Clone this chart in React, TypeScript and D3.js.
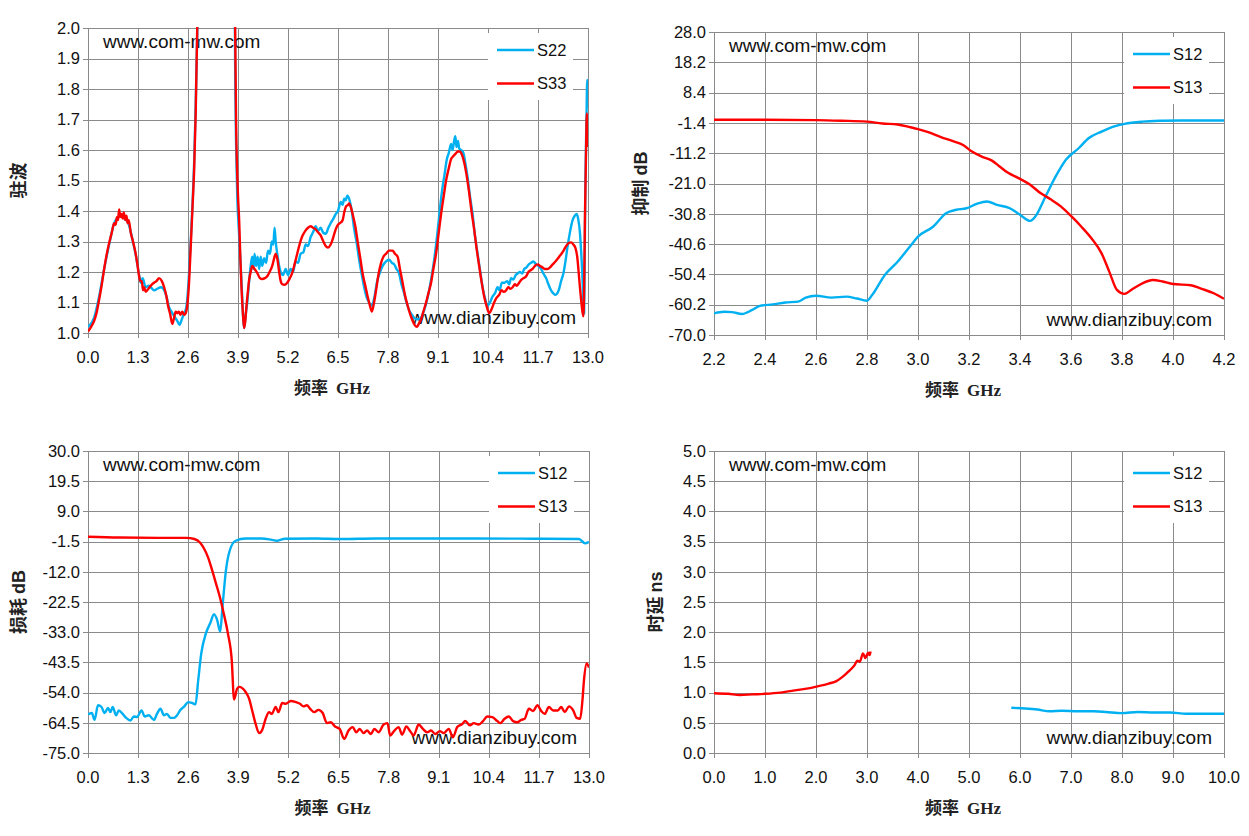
import * as d3 from "d3";

// ---- panel 1: VSWR ----
const vswrXTicks = [0.0, 1.3, 2.6, 3.9, 5.2, 6.5, 7.8, 9.1, 10.4, 11.7, 13.0];
const vswrYTicks = [1.0, 1.1, 1.2, 1.3, 1.4, 1.5, 1.6, 1.7, 1.8, 1.9, 2.0];

const s22Freq = [
  0, 0.16, 0.29, 0.42, 0.55, 0.68, 0.78, 0.85, 0.95, 1.05, 1.15, 1.25, 1.33, 1.37, 1.42, 1.5, 1.58, 1.63,
  1.72, 1.8, 1.9, 1.98, 2.04, 2.1, 2.17, 2.24, 2.32, 2.38, 2.44, 2.5, 2.55, 2.58, 2.62, 2.67, 2.72, 2.76,
  2.8, 2.84, 2.9, 3.3, 3.8, 3.83, 3.85, 3.88, 3.93, 3.99, 4.06, 4.1, 4.14, 4.19, 4.23, 4.27, 4.3, 4.33,
  4.37, 4.41, 4.45, 4.49, 4.53, 4.58, 4.63, 4.68, 4.73, 4.78, 4.82, 4.85, 4.88, 4.92, 4.97, 5.01, 5.07,
  5.14, 5.2, 5.27, 5.33, 5.4, 5.46, 5.53, 5.6, 5.66, 5.72, 5.79, 5.85, 5.92, 5.98, 6.05, 6.11, 6.18,
  6.25, 6.31, 6.38, 6.44, 6.5, 6.57, 6.62, 6.66, 6.7, 6.74, 6.79, 6.83, 6.87, 6.91, 6.98, 7.05, 7.12,
  7.18, 7.25, 7.31, 7.37, 7.4, 7.45, 7.51, 7.58, 7.66, 7.75, 7.83, 7.9, 7.96, 8.02, 8.09, 8.15, 8.22,
  8.28, 8.35, 8.42, 8.48, 8.55, 8.61, 8.68, 8.74, 8.8, 8.87, 8.94, 9.0, 9.06, 9.12, 9.17, 9.22, 9.27,
  9.33, 9.38, 9.44, 9.48, 9.52, 9.55, 9.58, 9.62, 9.65, 9.7, 9.76, 9.82, 9.87, 9.93, 10.0, 10.06, 10.13,
  10.2, 10.26, 10.33, 10.39, 10.45, 10.52, 10.58, 10.65, 10.7, 10.76, 10.83, 10.9, 10.95, 11.0, 11.06,
  11.12, 11.17, 11.23, 11.29, 11.34, 11.4, 11.46, 11.52, 11.58, 11.65, 11.71, 11.78, 11.84, 11.91,
  11.97, 12.04, 12.1, 12.15, 12.2, 12.25, 12.3, 12.36, 12.42, 12.47, 12.53, 12.6, 12.66, 12.71, 12.75,
  12.79, 12.82, 12.85, 12.88, 12.9, 12.93, 12.96, 12.98, 13.0,
];
const s22Vswr = [
  1.02, 1.05, 1.12, 1.21, 1.29, 1.36, 1.38, 1.39, 1.375, 1.36, 1.31, 1.25, 1.19, 1.165, 1.18, 1.15,
  1.155, 1.15, 1.14, 1.145, 1.15, 1.14, 1.12, 1.087, 1.07, 1.055, 1.04, 1.027, 1.045, 1.065, 1.08, 1.11,
  1.18, 1.3, 1.43, 1.56, 1.75, 1.98, 2.3, 3.0, 2.3, 1.8, 1.62, 1.45, 1.32, 1.17, 1.016, 1.06, 1.1, 1.17,
  1.22, 1.25, 1.21, 1.26, 1.22, 1.25, 1.21, 1.25, 1.22, 1.245, 1.23, 1.27, 1.26, 1.3, 1.29, 1.345, 1.3,
  1.26, 1.22, 1.2, 1.19, 1.21, 1.19, 1.21, 1.2, 1.235, 1.23, 1.26, 1.265, 1.29, 1.285, 1.315, 1.33,
  1.35, 1.335, 1.345, 1.33, 1.325, 1.345, 1.36, 1.375, 1.39, 1.4, 1.43, 1.42, 1.44, 1.435, 1.45, 1.44,
  1.42, 1.39, 1.35, 1.3, 1.24, 1.19, 1.15, 1.115, 1.1, 1.09, 1.095, 1.12, 1.165, 1.195, 1.22, 1.235,
  1.24, 1.23, 1.225, 1.21, 1.195, 1.16, 1.13, 1.1, 1.075, 1.06, 1.05, 1.045, 1.045, 1.055, 1.075, 1.1,
  1.14, 1.19, 1.24, 1.3, 1.37, 1.43, 1.48, 1.52, 1.57, 1.59, 1.62, 1.6, 1.63, 1.645, 1.61, 1.63, 1.605,
  1.6, 1.59, 1.55, 1.51, 1.45, 1.39, 1.32, 1.26, 1.2, 1.15, 1.11, 1.09, 1.1, 1.12, 1.13, 1.15, 1.14,
  1.165, 1.165, 1.17, 1.16, 1.18, 1.175, 1.19, 1.195, 1.2, 1.195, 1.21, 1.215, 1.225, 1.23, 1.235, 1.225,
  1.22, 1.21, 1.195, 1.18, 1.16, 1.14, 1.13, 1.125, 1.13, 1.145, 1.17, 1.195, 1.24, 1.285, 1.33, 1.37,
  1.385, 1.39, 1.37, 1.33, 1.27, 1.2, 1.1, 1.065, 1.48, 1.7, 1.83, 1.74,
];

const s33Freq = [
  0, 0.08, 0.16, 0.23, 0.29, 0.36, 0.42, 0.49, 0.55, 0.62, 0.68, 0.72, 0.75, 0.78, 0.81, 0.84, 0.87, 0.9,
  0.93, 0.97, 1.0, 1.03, 1.06, 1.11, 1.17, 1.24, 1.29, 1.33, 1.36, 1.4, 1.43, 1.46, 1.5, 1.54, 1.6, 1.67,
  1.72, 1.78, 1.85, 1.92, 1.98, 2.04, 2.08, 2.14, 2.19, 2.23, 2.28, 2.32, 2.36, 2.4, 2.45, 2.5, 2.54,
  2.58, 2.62, 2.67, 2.72, 2.76, 2.8, 2.84, 2.9, 3.3, 3.8, 3.83, 3.85, 3.9, 3.93, 3.96, 3.99, 4.03, 4.06,
  4.09, 4.12, 4.16, 4.19, 4.23, 4.27, 4.33, 4.4, 4.47, 4.53, 4.6, 4.66, 4.72, 4.79, 4.84, 4.88, 4.92,
  4.97, 5.01, 5.05, 5.11, 5.18, 5.25, 5.31, 5.38, 5.44, 5.5, 5.57, 5.65, 5.72, 5.79, 5.85, 5.92, 5.98,
  6.05, 6.12, 6.18, 6.24, 6.31, 6.38, 6.44, 6.5, 6.55, 6.62, 6.67, 6.71, 6.76, 6.79, 6.84, 6.88, 6.95,
  7.01, 7.08, 7.14, 7.21, 7.27, 7.33, 7.38, 7.43, 7.49, 7.55, 7.62, 7.68, 7.75, 7.83, 7.92, 7.98, 8.05,
  8.11, 8.18, 8.24, 8.31, 8.38, 8.44, 8.5, 8.55, 8.6, 8.66, 8.72, 8.79, 8.85, 8.92, 8.98, 9.05, 9.12,
  9.18, 9.25, 9.31, 9.38, 9.44, 9.5, 9.57, 9.62, 9.67, 9.72, 9.78, 9.84, 9.91, 9.97, 10.04, 10.1, 10.17,
  10.23, 10.3, 10.36, 10.43, 10.5, 10.56, 10.62, 10.69, 10.75, 10.81, 10.87, 10.93, 10.98, 11.04, 11.1,
  11.15, 11.21, 11.27, 11.33, 11.39, 11.45, 11.5, 11.56, 11.62, 11.69, 11.75, 11.82, 11.88, 11.95, 12.01,
  12.08, 12.16, 12.25, 12.34, 12.43, 12.5, 12.56, 12.62, 12.67, 12.72, 12.76, 12.79, 12.82, 12.85, 12.88,
  12.9, 12.92, 12.95, 12.97, 12.99, 13.0,
];
const s33Vswr = [
  1.005, 1.02, 1.04, 1.07, 1.11, 1.16, 1.21, 1.26, 1.295, 1.33, 1.36, 1.355, 1.38, 1.37, 1.405, 1.38,
  1.39, 1.375, 1.395, 1.37, 1.385, 1.36, 1.37, 1.33, 1.3, 1.26, 1.22, 1.185, 1.17, 1.17, 1.14, 1.15,
  1.135, 1.14, 1.15, 1.16, 1.165, 1.17, 1.18, 1.17, 1.15, 1.12, 1.09, 1.06, 1.03, 1.045, 1.07, 1.065,
  1.07, 1.06, 1.07, 1.06, 1.065, 1.09, 1.15, 1.28, 1.42, 1.535, 1.72, 2.0, 2.3, 3.0, 2.3, 1.95, 1.7,
  1.45, 1.37, 1.25, 1.15, 1.06, 1.016, 1.04, 1.087, 1.14, 1.175, 1.2, 1.22, 1.21, 1.197, 1.18, 1.177,
  1.18, 1.186, 1.2, 1.22, 1.245, 1.26, 1.245, 1.2, 1.17, 1.16, 1.158, 1.165, 1.18, 1.197, 1.23, 1.26,
  1.29, 1.317, 1.335, 1.345, 1.35, 1.345, 1.34, 1.33, 1.32, 1.3, 1.285, 1.28, 1.29, 1.315, 1.34, 1.355,
  1.36, 1.37, 1.4, 1.415, 1.42, 1.425, 1.41, 1.39, 1.35, 1.3, 1.245, 1.195, 1.155, 1.12, 1.09, 1.07,
  1.095, 1.14, 1.19, 1.23, 1.25, 1.26, 1.27, 1.27, 1.26, 1.25, 1.21, 1.165, 1.125, 1.09, 1.06, 1.04,
  1.025, 1.02, 1.03, 1.045, 1.07, 1.1, 1.13, 1.165, 1.21, 1.26, 1.33, 1.39, 1.45, 1.5, 1.54, 1.57, 1.58,
  1.59, 1.595, 1.595, 1.585, 1.56, 1.52, 1.46, 1.4, 1.34, 1.28, 1.22, 1.17, 1.12, 1.09, 1.065, 1.08, 1.1,
  1.115, 1.125, 1.14, 1.135, 1.14, 1.15, 1.145, 1.15, 1.16, 1.155, 1.165, 1.175, 1.18, 1.185, 1.2, 1.205,
  1.21, 1.22, 1.225, 1.22, 1.215, 1.21, 1.21, 1.215, 1.225, 1.235, 1.25, 1.265, 1.285, 1.295, 1.297,
  1.29, 1.28, 1.25, 1.195, 1.15, 1.11, 1.075, 1.055, 1.15, 1.37, 1.6, 1.72, 1.68, 1.61,
];

// ---- panel 2: rejection (2.2 - 4.2 GHz) ----
const rejXTicks = [2.2, 2.4, 2.6, 2.8, 3.0, 3.2, 3.4, 3.6, 3.8, 4.0, 4.2];
const rejYTicks = [-70.0, -60.2, -50.4, -40.6, -30.8, -21.0, -11.2, -1.4, 8.4, 18.2, 28.0];

const rejS12Freq = [
  2.2, 2.24, 2.27, 2.31, 2.35, 2.38, 2.43, 2.48, 2.53, 2.56, 2.6, 2.66, 2.72, 2.76, 2.8, 2.82, 2.87,
  2.92, 2.97, 3.0, 3.06, 3.11, 3.15, 3.19, 3.23, 3.27, 3.31, 3.36, 3.4, 3.44, 3.46, 3.5, 3.54, 3.58,
  3.63, 3.67, 3.72, 3.77, 3.81, 3.88, 3.96, 4.03, 4.2,
];
const rejS12 = [
  -63.0, -62.5, -62.6, -63.2, -61.9, -60.6, -60.1, -59.5, -59.2, -57.9, -57.3, -57.9, -57.6, -58.2,
  -58.9, -57.1, -50.6, -46.3, -41.2, -38.2, -34.9, -30.6, -29.5, -29.0, -27.6, -26.8, -27.9, -29.0,
  -31.1, -33.1, -31.7, -25.2, -18.7, -13.3, -9.6, -6.3, -4.2, -2.5, -1.7, -1.0, -0.7, -0.6, -0.6,
];
const rejS13Freq = [
  2.2, 2.4, 2.6, 2.7, 2.8, 2.86, 2.92, 2.97, 3.0, 3.04, 3.09, 3.14, 3.18, 3.21, 3.25, 3.29, 3.32, 3.35,
  3.4, 3.44, 3.48, 3.52, 3.56, 3.6, 3.64, 3.68, 3.72, 3.75, 3.78, 3.81, 3.84, 3.88, 3.92, 3.96, 4.0,
  4.07, 4.11, 4.16, 4.2,
];
const rejS13 = [
  -0.4, -0.4, -0.5, -0.7, -1.0, -1.6, -1.9, -2.8, -3.4, -4.4, -6.0, -7.4, -8.7, -10.6, -12.3, -13.6,
  -15.5, -17.4, -19.5, -21.4, -24.1, -26.1, -28.4, -31.5, -34.9, -38.7, -43.6, -49.5, -55.4, -56.7,
  -55.2, -53.3, -52.2, -52.7, -53.5, -53.9, -55.0, -56.5, -58.3,
];

// ---- panel 3: loss (0 - 13 GHz) ----
const lossXTicks = vswrXTicks;
const lossYTicks = [-75.0, -64.5, -54.0, -43.5, -33.0, -22.5, -12.0, -1.5, 9.0, 19.5, 30.0];

const lossS12Freq = [
  0, 0.02, 0.1, 0.17, 0.26, 0.35, 0.43, 0.52, 0.58, 0.64, 0.73, 0.8, 0.9, 0.99, 1.1, 1.19, 1.27, 1.39,
  1.47, 1.58, 1.71, 1.79, 1.88, 1.97, 2.05, 2.14, 2.23, 2.31, 2.4, 2.5, 2.6, 2.7, 2.79, 2.86, 2.94,
  3.06, 3.17, 3.27, 3.35, 3.43, 3.49, 3.58, 3.68, 3.83, 4.09, 4.5, 4.75, 4.91, 5.11, 5.93, 6.55, 7.47,
  9.0, 10.03, 11.57, 12.74, 12.9, 13.0,
];
const lossS12 = [
  -61.1, -61.4, -61.1, -63.5, -58.4, -59.0, -61.1, -59.3, -60.8, -59.0, -61.9, -60.2, -61.4, -62.8,
  -63.7, -62.3, -62.5, -60.2, -62.3, -61.9, -63.5, -61.4, -59.6, -61.9, -61.4, -62.8, -62.8, -61.9,
  -60.0, -58.8, -57.3, -57.6, -58.1, -49.7, -40.3, -33.4, -29.9, -26.7, -28.7, -32.8, -24.1, -11.4,
  -4.5, -1.2, -0.4, -0.4, -0.8, -1.2, -0.5, -0.4, -0.6, -0.4, -0.4, -0.4, -0.5, -0.6, -2.1, -1.6,
];
const lossS13Freq = [
  0, 0.81, 1.83, 2.55, 2.76, 2.91, 3.01, 3.11, 3.22, 3.32, 3.42, 3.52, 3.63, 3.73, 3.79, 3.87, 3.93,
  4.07, 4.18, 4.26, 4.35, 4.44, 4.52, 4.61, 4.7, 4.77, 4.87, 4.94, 5.04, 5.13, 5.26, 5.39, 5.5, 5.59,
  5.68, 5.76, 5.87, 5.98, 6.09, 6.2, 6.3, 6.41, 6.53, 6.65, 6.76, 6.87, 6.96, 7.05, 7.15, 7.24, 7.34,
  7.43, 7.54, 7.67, 7.77, 7.84, 7.95, 8.06, 8.15, 8.26, 8.36, 8.45, 8.58, 8.69, 8.8, 8.9, 9.01, 9.13,
  9.23, 9.36, 9.47, 9.58, 9.71, 9.79, 9.91, 10.01, 10.14, 10.25, 10.36, 10.49, 10.62, 10.7, 10.81,
  10.92, 11.03, 11.14, 11.24, 11.33, 11.44, 11.55, 11.66, 11.76, 11.85, 11.96, 12.07, 12.19, 12.28,
  12.37, 12.48, 12.59, 12.68, 12.77, 12.83, 12.87, 12.94, 13.0,
];
const lossS13 = [
  0.2, -0.1, -0.2, -0.2, -0.6, -1.9, -3.9, -6.8, -11.4, -16.0, -20.7, -26.4, -33.4, -42.7, -56.4,
  -52.6, -52.0, -53.4, -56.1, -60.2, -64.9, -68.1, -67.0, -63.1, -60.8, -61.4, -59.0, -60.8, -57.6,
  -57.9, -56.9, -57.3, -57.9, -58.8, -58.4, -59.6, -60.8, -60.0, -61.1, -64.6, -64.3, -65.8, -66.6,
  -70.1, -67.2, -66.0, -67.8, -66.6, -68.1, -67.2, -68.4, -66.6, -67.8, -65.1, -64.6, -68.9, -67.2,
  -66.0, -68.6, -65.8, -67.4, -68.9, -65.1, -66.6, -67.8, -67.2, -68.4, -67.4, -68.1, -66.6, -69.5,
  -66.0, -64.9, -63.9, -65.4, -64.6, -65.1, -63.9, -62.3, -62.5, -63.9, -64.6, -63.1, -62.3, -63.9,
  -64.3, -63.5, -63.1, -59.6, -60.4, -58.4, -60.4, -61.4, -59.0, -60.2, -60.2, -59.0, -60.8, -58.8,
  -60.2, -62.8, -63.1, -56.7, -49.7, -43.9, -45.3,
];

// ---- panel 4: group delay (0 - 10 GHz) ----
const delayXTicks = [0.0, 1.0, 2.0, 3.0, 4.0, 5.0, 6.0, 7.0, 8.0, 9.0, 10.0];
const delayYTicks = [0.0, 0.5, 1.0, 1.5, 2.0, 2.5, 3.0, 3.5, 4.0, 4.5, 5.0];

const delayS12Freq = [5.83, 6.03, 6.34, 6.58, 6.82, 7.13, 7.45, 7.68, 8.0, 8.31, 8.63, 8.94, 9.26, 9.57, 9.81, 10.0];
const delayS12 = [0.75, 0.74, 0.72, 0.69, 0.7, 0.69, 0.69, 0.68, 0.66, 0.68, 0.67, 0.67, 0.65, 0.65, 0.65, 0.65];
const delayS13Freq = [
  0, 0.28, 0.51, 0.75, 1.0, 1.3, 1.62, 1.85, 2.01, 2.25, 2.4, 2.52, 2.64, 2.76, 2.81, 2.86, 2.92, 2.97,
  3.02, 3.05, 3.07,
];
const delayS13 = [
  0.99, 0.98, 0.96, 0.97, 0.98, 1.0, 1.04, 1.07, 1.1, 1.15, 1.19, 1.26, 1.35, 1.46, 1.53, 1.51, 1.65,
  1.57, 1.66, 1.62, 1.68,
];

const BLUE = "#00B0F0";
const RED = "#FF0000";
const GRID = "#8a8a8a";
const SANS = "'Liberation Sans', Arial, sans-serif";
const SERIF = "'Liberation Serif', 'Noto Sans CJK SC', serif";
const CJK = "'Noto Sans CJK SC', sans-serif";

type Series = { name: string; color: string; freq: number[]; values: number[] };

function Panel({ id, box, xTicks, yTicks, series, yTitle, yUnit, yTitleX }: any) {
  const x = d3.scaleLinear().domain([xTicks[0], xTicks[xTicks.length - 1]]).range([box.left, box.right]);
  const y = d3.scaleLinear().domain([yTicks[0], yTicks[yTicks.length - 1]]).range([box.bottom, box.top]);
  const line = d3
    .line<[number, number]>()
    .x((d) => x(d[0]))
    .y((d) => y(d[1]))
    .curve(d3.curveMonotoneX);
  const px = (v: number) => Math.round(v) + 0.5;

  const legW = 85;
  const legX = box.right - 15 - legW;
  const legY = box.top + 5;
  const midY = (box.top + box.bottom) / 2;
  const midX = (box.left + box.right) / 2;

  return (
    <g>
      <defs>
        <clipPath id={`clip-${id}`}>
          <rect x={box.left} y={box.top - 1} width={box.right - box.left} height={box.bottom - box.top + 2} />
        </clipPath>
      </defs>

      {/* grid + ticks */}
      {yTicks.map((t: number) => (
        <line key={`h${t}`} x1={box.left - 5} x2={box.right} y1={px(y(t))} y2={px(y(t))} stroke={GRID} strokeWidth={1} />
      ))}
      {xTicks.map((t: number) => (
        <line key={`v${t}`} x1={px(x(t))} x2={px(x(t))} y1={box.top} y2={box.bottom + 5} stroke={GRID} strokeWidth={1} />
      ))}

      {/* tick labels */}
      {yTicks.map((t: number) => (
        <text key={`yl${t}`} x={box.left - 8} y={y(t)} dy="0.35em" textAnchor="end" fontFamily={SANS} fontSize={16.5} fill="#111">
          {t.toFixed(1)}
        </text>
      ))}
      {xTicks.map((t: number) => (
        <text key={`xl${t}`} x={x(t)} y={box.bottom + 30} textAnchor="middle" fontFamily={SANS} fontSize={16.5} fill="#111">
          {t.toFixed(1)}
        </text>
      ))}

      {/* axis titles */}
      <text x={midX - 6} y={box.bottom + 61} textAnchor="middle" fontFamily={CJK} fontWeight="bold" fontSize={17} fill="#222">
        频率
        <tspan dx={8} fontFamily={SERIF} fontWeight="bold">GHz</tspan>
      </text>
      <text
        transform={`translate(${yTitleX},${midY}) rotate(-90)`}
        textAnchor="middle"
        dy="0.35em"
        fontFamily={CJK}
        fontWeight="bold"
        fontSize={18}
        fill="#222"
      >
        {yTitle}
        {yUnit ? (
          <tspan dx={4} fontFamily={SANS} fontWeight="bold">
            {yUnit}
          </tspan>
        ) : null}
      </text>

      {/* watermarks */}
      <text x={box.left + 15} y={box.top + 20} fontFamily={SANS} fontSize={19} fill="#111">
        www.com-mw.com
      </text>
      <text x={box.right - 12} y={box.bottom - 9} textAnchor="end" fontFamily={SANS} fontSize={19} fill="#111">
        www.dianzibuy.com
      </text>

      {/* data */}
      <g clipPath={`url(#clip-${id})`}>
        {series.map((s: Series) => (
          <path
            key={s.name}
            d={line(s.freq.map((f, i) => [f, s.values[i]] as [number, number])) || ""}
            fill="none"
            stroke={s.color}
            strokeWidth={2.4}
            strokeLinejoin="round"
          />
        ))}
      </g>

      {/* legend */}
      <rect x={legX} y={legY} width={legW} height={67} fill="#fff" />
      {series.map((s: Series, i: number) => {
        const ly = legY + 17 + i * 33.5;
        return (
          <g key={`lg${s.name}`}>
            <line x1={legX + 9} x2={legX + 46} y1={ly} y2={ly} stroke={s.color} strokeWidth={2.5} />
            <text x={legX + 49} y={ly} dy="0.35em" fontFamily={SANS} fontSize={16.5} fill="#111">
              {s.name}
            </text>
          </g>
        );
      })}
    </g>
  );
}

export default function App() {
  return (
    <svg
      width={1249}
      height={836}
      viewBox="0 0 1249 836"
      style={{ position: "absolute", left: 0, top: 0, background: "#fff" }}
    >
      <rect width={1249} height={836} fill="#fff" />
      <Panel
        id="vswr"
        box={{ left: 88, right: 588, top: 28, bottom: 333 }}
        xTicks={vswrXTicks}
        yTicks={vswrYTicks}
        yTitle="驻波"
        yTitleX={19}
        series={[
          { name: "S22", color: BLUE, freq: s22Freq, values: s22Vswr },
          { name: "S33", color: RED, freq: s33Freq, values: s33Vswr },
        ]}
      />
      <Panel
        id="rej"
        box={{ left: 714, right: 1224, top: 32, bottom: 335 }}
        xTicks={rejXTicks}
        yTicks={rejYTicks}
        yTitle="抑制"
        yUnit="dB"
        yTitleX={641}
        series={[
          { name: "S12", color: BLUE, freq: rejS12Freq, values: rejS12 },
          { name: "S13", color: RED, freq: rejS13Freq, values: rejS13 },
        ]}
      />
      <Panel
        id="loss"
        box={{ left: 88, right: 589, top: 451, bottom: 753 }}
        xTicks={lossXTicks}
        yTicks={lossYTicks}
        yTitle="损耗"
        yUnit="dB"
        yTitleX={19}
        series={[
          { name: "S12", color: BLUE, freq: lossS12Freq, values: lossS12 },
          { name: "S13", color: RED, freq: lossS13Freq, values: lossS13 },
        ]}
      />
      <Panel
        id="delay"
        box={{ left: 714, right: 1224, top: 451, bottom: 753 }}
        xTicks={delayXTicks}
        yTicks={delayYTicks}
        yTitle="时延"
        yUnit="ns"
        yTitleX={656}
        series={[
          { name: "S12", color: BLUE, freq: delayS12Freq, values: delayS12 },
          { name: "S13", color: RED, freq: delayS13Freq, values: delayS13 },
        ]}
      />
    </svg>
  );
}
